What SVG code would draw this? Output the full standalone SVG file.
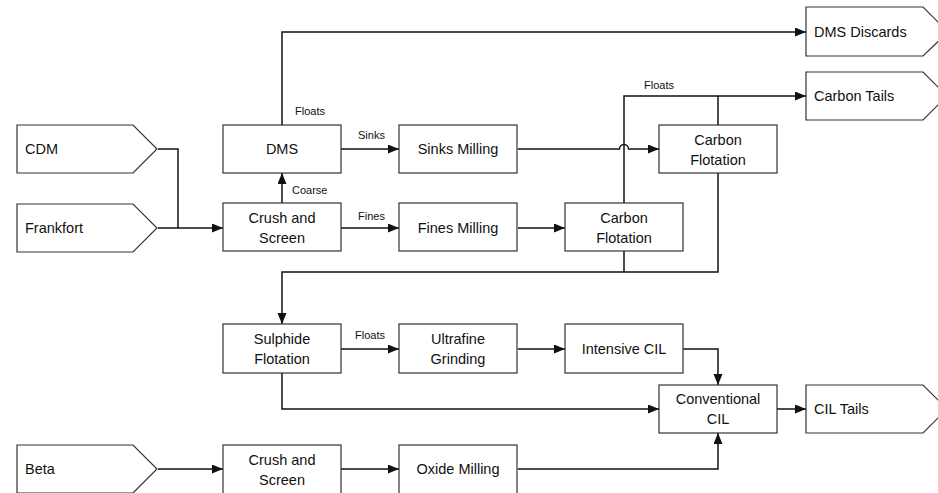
<svg xmlns="http://www.w3.org/2000/svg" width="938" height="493" viewBox="0 0 938 493">
<style>
.box{fill:#fff;stroke:#333;stroke-width:1.2}
.t{font-family:"Liberation Sans",Arial,sans-serif;font-size:14.5px;fill:#111}
.c{text-anchor:middle}
.s{font-family:"Liberation Sans",Arial,sans-serif;font-size:11px;fill:#111}
.ln{fill:none;stroke:#111;stroke-width:1.5}
</style>
<defs>
<marker id="ah" markerUnits="userSpaceOnUse" markerWidth="12" markerHeight="10" refX="11" refY="4.5" orient="auto">
<path d="M0,0 L11,4.5 L0,9 Z" fill="#111"/>
</marker>
</defs>
<rect width="938" height="493" fill="#fff"/>
<g id="connectors">
<path class="ln" d="M158,149 H178 V228"/>
<path class="ln" d="M158,228 H223" marker-end="url(#ah)"/>
<path class="ln" d="M282,203 V173" marker-end="url(#ah)"/>
<path class="ln" d="M282,125 V32 H806" marker-end="url(#ah)"/>
<path class="ln" d="M341,149 H399" marker-end="url(#ah)"/>
<path class="ln" d="M341,228 H399" marker-end="url(#ah)"/>
<path class="ln" d="M518,149 H619.5 A4.5,4.5 0 0 1 628.5,149 H659" marker-end="url(#ah)"/>
<path class="ln" d="M518,228 H565" marker-end="url(#ah)"/>
<path class="ln" d="M624,203 V96 H806" marker-end="url(#ah)"/>
<path class="ln" d="M718,125 V96"/>
<path class="ln" d="M718,173 V272 H282 V324" marker-end="url(#ah)"/>
<path class="ln" d="M624,251 V272"/>
<path class="ln" d="M341,349 H399" marker-end="url(#ah)"/>
<path class="ln" d="M518,349 H565" marker-end="url(#ah)"/>
<path class="ln" d="M683,349 H718 V385" marker-end="url(#ah)"/>
<path class="ln" d="M282,373 V409 H659" marker-end="url(#ah)"/>
<path class="ln" d="M777,409 H806" marker-end="url(#ah)"/>
<path class="ln" d="M158,469 H223" marker-end="url(#ah)"/>
<path class="ln" d="M341,469 H399" marker-end="url(#ah)"/>
<path class="ln" d="M518,469 H718 V433" marker-end="url(#ah)"/>
<text class="s" x="295" y="115">Floats</text>
<text class="s" x="358" y="139">Sinks</text>
<text class="s" x="292" y="194">Coarse</text>
<text class="s" x="358" y="220">Fines</text>
<text class="s" x="644" y="89">Floats</text>
<text class="s" x="355" y="339">Floats</text>
</g>
<g id="cdm"><path class="box" d="M17,125 H133 L157,149 L133,173 H17 Z"/><text class="t" x="25" y="154">CDM</text></g>
<g id="frankfort"><path class="box" d="M17,204 H133 L157,228 L133,252 H17 Z"/><text class="t" x="25" y="233">Frankfort</text></g>
<g id="beta"><path class="box" d="M17,445 H133 L157,469 L133,493 H17 Z"/><text class="t" x="25" y="474">Beta</text></g>
<g id="dms"><rect class="box" x="223" y="125" width="118" height="48"/><text class="t c" x="282" y="154">DMS</text></g>
<g id="crush1"><rect class="box" x="223" y="203" width="118" height="48"/><text class="t c" x="282" y="223">Crush and</text><text class="t c" x="282" y="243">Screen</text></g>
<g id="sinksmilling"><rect class="box" x="399" y="125" width="118" height="48"/><text class="t c" x="458" y="154">Sinks Milling</text></g>
<g id="finesmilling"><rect class="box" x="399" y="203" width="118" height="48"/><text class="t c" x="458" y="233">Fines Milling</text></g>
<g id="carbonflot1"><rect class="box" x="659" y="125" width="118" height="48"/><text class="t c" x="718" y="145">Carbon</text><text class="t c" x="718" y="165">Flotation</text></g>
<g id="carbonflot2"><rect class="box" x="565" y="203" width="118" height="48"/><text class="t c" x="624" y="223">Carbon</text><text class="t c" x="624" y="243">Flotation</text></g>
<g id="dmsdiscards"><path class="box" d="M806,7 H923 L948,32 L923,56 H806 Z"/><text class="t" x="814" y="37">DMS Discards</text></g>
<g id="carbontails"><path class="box" d="M806,72 H923 L947,96 L923,120 H806 Z"/><text class="t" x="814" y="101">Carbon Tails</text></g>
<g id="sulphide"><rect class="box" x="223" y="324" width="118" height="49"/><text class="t c" x="282" y="344">Sulphide</text><text class="t c" x="282" y="364">Flotation</text></g>
<g id="ultrafine"><rect class="box" x="399" y="324" width="118" height="49"/><text class="t c" x="458" y="344">Ultrafine</text><text class="t c" x="458" y="364">Grinding</text></g>
<g id="intensivecil"><rect class="box" x="565" y="324" width="118" height="49"/><text class="t c" x="624" y="354">Intensive CIL</text></g>
<g id="conventionalcil"><rect class="box" x="659" y="385" width="118" height="48"/><text class="t c" x="718" y="404">Conventional</text><text class="t c" x="718" y="424">CIL</text></g>
<g id="ciltails"><path class="box" d="M806,385 H923 L947,409 L923,433 H806 Z"/><text class="t" x="814" y="414">CIL Tails</text></g>
<g id="crush2"><rect class="box" x="223" y="445" width="118" height="52"/><text class="t c" x="282" y="465">Crush and</text><text class="t c" x="282" y="485">Screen</text></g>
<g id="oxidemilling"><rect class="box" x="399" y="445" width="118" height="52"/><text class="t c" x="458" y="474">Oxide Milling</text></g>
</svg>
